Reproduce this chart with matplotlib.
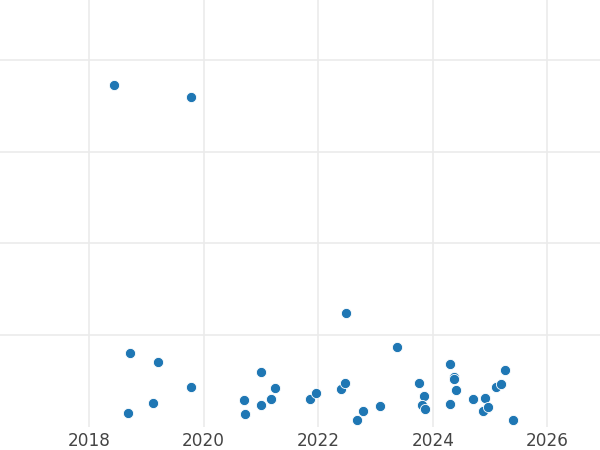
import matplotlib
matplotlib.use("Agg")
import matplotlib.pyplot as plt

# decimal years (x) and values (y)
years = [2018.443, 2019.773, 2018.710, 2019.209, 2019.775, 2019.117, 2018.686,
         2021.000, 2021.245, 2020.710, 2021.181, 2021.000, 2020.717,
         2022.484, 2023.369, 2021.851, 2021.956, 2022.402, 2022.472, 2022.676,
         2022.786, 2023.077, 2023.763, 2023.845, 2023.816, 2023.858,
         2024.294, 2024.364, 2024.369, 2024.399, 2024.304, 2024.700, 2024.910,
         2024.880, 2024.962, 2025.096, 2025.189, 2025.264, 2025.404]
values = [3.723, 3.592, 0.807, 0.706, 0.436, 0.255, 0.153,
          0.597, 0.425, 0.288, 0.305, 0.233, 0.135,
          1.240, 0.866, 0.299, 0.364, 0.414, 0.473, 0.076,
          0.174, 0.226, 0.477, 0.335, 0.237, 0.196,
          0.687, 0.545, 0.517, 0.403, 0.244, 0.305, 0.316,
          0.174, 0.218, 0.433, 0.469, 0.615, 0.076]
xticks = [2018, 2020, 2022, 2024, 2026]
yticks = [1, 2, 3, 4]

fig = plt.figure(figsize=(6, 4.5), dpi=100)
ax = fig.add_axes([0, 23.3 / 450, 1, 426.7 / 450])
ax.scatter(years, values, s=54, color="#1f77b4", edgecolor="white",
           linewidth=0.6, zorder=3)
ax.set_xlim(2016.447, 2026.917)
ax.set_ylim(0, 4.653)
ax.set_xticks(xticks)
ax.set_xticklabels([str(t) for t in xticks])
ax.set_yticks(yticks)
ax.set_yticklabels([])
ax.grid(True, color="#ebebeb", linewidth=1.2)
ax.set_axisbelow(True)
for s in ax.spines.values():
    s.set_visible(False)
ax.tick_params(axis="both", length=0)
ax.tick_params(axis="x", labelsize=12.2, labelcolor="#444444", pad=3.5)
fig.savefig("out.png", dpi=100)
